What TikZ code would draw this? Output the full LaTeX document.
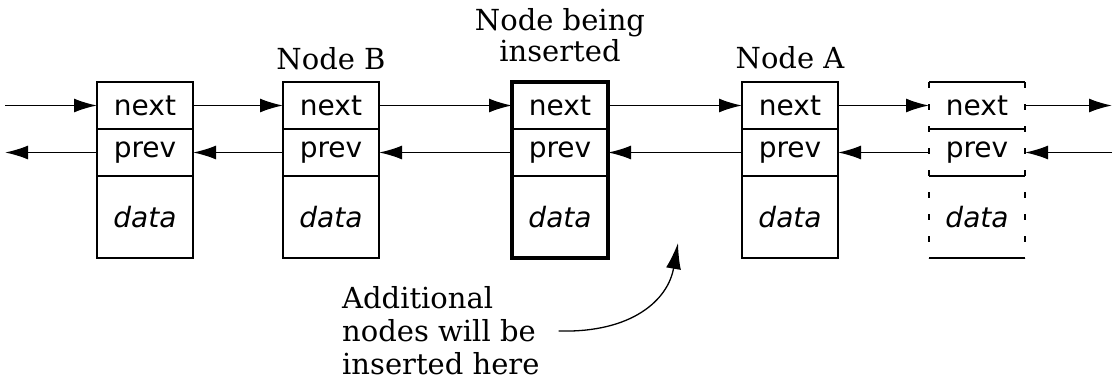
\documentclass[tikz,border=0pt]{standalone}
\usepackage{fontspec}
\setmainfont{DejaVu Serif}
\setsansfont{DejaVu Sans}
\usetikzlibrary{arrows.meta,positioning}

\tikzset{
    cell/.style={draw,line width=1.5pt,minimum width=96pt,minimum height=47pt,inner sep=0pt,outer sep=0pt,
        font=\sffamily\fontsize{28}{30}\selectfont},
    datacell/.style={cell,minimum height=82pt,font=\sffamily\itshape\fontsize{28}{30}\selectfont},
    solid cell/.style={},
    open cell/.style={draw=none},
    link/.style={-{Latex[length=23pt,width=14pt]},line width=1.6pt},
    title/.style={inner sep=0pt,anchor=south,align=center,font=\fontsize{29}{31}\selectfont}
}

\begin{document}
\begin{tikzpicture}[x=1pt,y=-1pt]
    \useasboundingbox (0,0) rectangle (1117,383);
    % the five list nodes
    \foreach \n/\x/\s in {w/145/solid cell,nb/331/solid cell,ins/560/solid cell,na/790/solid cell,e/977/open cell}{
        \node[cell,\s] (\n-next) at (\x,105.5) {next};
        \node[cell,\s,below=0pt of \n-next] (\n-prev) {prev};
        \node[datacell,\s,below=0pt of \n-prev] (\n-data) {data};
    }
    \draw[line width=4.5pt] (ins-next.north west) rectangle (ins-data.south east);
    \draw[line width=1.5pt] (e-next.north west) -- (e-next.north east)
        (e-prev.north west) -- (e-prev.north east)
        (e-data.north west) -- (e-data.north east)
        (e-data.south west) -- (e-data.south east);
    \draw[line width=1.5pt,dash pattern=on 6pt off 16pt] (e-next.north west) -- (e-data.south west)
        (e-next.north east) -- (e-data.south east);

    \node[title] (nb-label) at ([yshift=12pt]nb-next.north) {Node B};
    \node[title] (ins-label) at ([yshift=20pt]ins-next.north) {Node being\\inserted};
    \node[title] (na-label) at ([yshift=13pt]na-next.north) {Node A};

    % links
    \coordinate (in-next) at (5,105.5);
    \coordinate (out-prev) at (5,152.5);
    \coordinate (out-next) at (1112,105.5);
    \coordinate (in-prev) at (1112,152.5);
    \draw[link] (in-next) -- (w-next);
    \draw[link] (w-prev) -- (out-prev);
    \foreach \a/\b in {w/nb,nb/ins,ins/na,na/e}{
        \draw[link] (\a-next) -- (\b-next);
        \draw[link] (\b-prev) -- (\a-prev);
    }
    \draw[link] (e-next) -- (out-next);
    \draw[link] (in-prev) -- (e-prev);

    % where further nodes go
    \node[inner sep=0pt,anchor=west,align=left,font=\fontsize{29}{33}\selectfont] (note) at (342,331)
        {Additional\\nodes will be\\inserted here};
    \coordinate (here) at (678,243);
    \draw[-{Latex[length=26pt,width=15pt]},line width=1.3pt] ([xshift=19pt]note.east)
        .. controls (632,333) and (668,300) .. (here);
\end{tikzpicture}
\end{document}
